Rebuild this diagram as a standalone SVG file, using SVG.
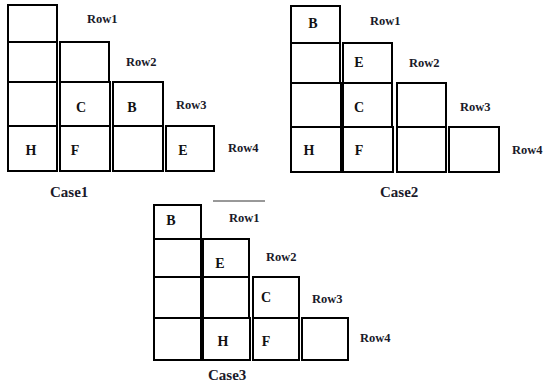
<svg xmlns="http://www.w3.org/2000/svg" width="544" height="383" viewBox="0 0 544 383">
<style>
.b{fill:#fff;stroke:#000;stroke-width:2}
.l{font-family:"Liberation Serif",serif;font-weight:bold;font-size:14px;fill:#111;text-anchor:middle}
.r{font-family:"Liberation Serif",serif;font-weight:bold;font-size:12.5px;fill:#1a1a2a}
.c{font-family:"Liberation Serif",serif;font-weight:bold;font-size:15px;fill:#1a1a2a}
</style>
<rect width="544" height="383" fill="#fff"/>
<g id="case1">
<rect class="b" x="8" y="5" width="49" height="37"/>
<rect class="b" x="8" y="42" width="49" height="40"/>
<rect class="b" x="60" y="42" width="49" height="40"/>
<rect class="b" x="8" y="82" width="49" height="44"/>
<rect class="b" x="60" y="82" width="50" height="44"/>
<rect class="b" x="113" y="82" width="50" height="44"/>
<rect class="b" x="8" y="126" width="49" height="45"/>
<rect class="b" x="60" y="126" width="50" height="45"/>
<rect class="b" x="113" y="126" width="50" height="45"/>
<rect class="b" x="166" y="126" width="48" height="45"/>
<text class="l" x="81" y="112">C</text>
<text class="l" x="132" y="112">B</text>
<text class="l" x="31" y="155">H</text>
<text class="l" x="75" y="155">F</text>
<text class="l" x="183" y="155">E</text>
<text class="r" x="87" y="23">Row1</text>
<text class="r" x="126" y="66">Row2</text>
<text class="r" x="176" y="109">Row3</text>
<text class="r" x="228" y="152">Row4</text>
<text class="c" x="50" y="197">Case1</text>
</g>
<g id="case2">
<rect class="b" x="291" y="6" width="49" height="37"/>
<rect class="b" x="291" y="43" width="49" height="40"/>
<rect class="b" x="343" y="43" width="49" height="40"/>
<rect class="b" x="291" y="83" width="50" height="44"/>
<rect class="b" x="343" y="83" width="49" height="44"/>
<rect class="b" x="397" y="83" width="49" height="44"/>
<rect class="b" x="291" y="127" width="50" height="45"/>
<rect class="b" x="343" y="127" width="50" height="45"/>
<rect class="b" x="397" y="127" width="49" height="45"/>
<rect class="b" x="449" y="127" width="50" height="45"/>
<text class="l" x="313" y="28">B</text>
<text class="l" x="359" y="67">E</text>
<text class="l" x="359" y="112">C</text>
<text class="l" x="309" y="155">H</text>
<text class="l" x="359" y="155">F</text>
<text class="r" x="370" y="25">Row1</text>
<text class="r" x="409" y="67">Row2</text>
<text class="r" x="460" y="111">Row3</text>
<text class="r" x="512" y="154">Row4</text>
<text class="c" x="380" y="197">Case2</text>
</g>
<g id="case3">
<line x1="213" y1="201" x2="265" y2="201" stroke="#333" stroke-width="1"/>
<rect class="b" x="154" y="205" width="47" height="34"/>
<rect class="b" x="154" y="239" width="47" height="38"/>
<rect class="b" x="203" y="239" width="46" height="38"/>
<rect class="b" x="154" y="277" width="47" height="41"/>
<rect class="b" x="203" y="277" width="46" height="41"/>
<rect class="b" x="253" y="277" width="46" height="41"/>
<rect class="b" x="154" y="318" width="47" height="42"/>
<rect class="b" x="203" y="318" width="47" height="42"/>
<rect class="b" x="253" y="318" width="46" height="42"/>
<rect class="b" x="302" y="318" width="46" height="42"/>
<text class="l" x="171" y="225">B</text>
<text class="l" x="220" y="268">E</text>
<text class="l" x="266" y="302">C</text>
<text class="l" x="223" y="346">H</text>
<text class="l" x="266" y="346">F</text>
<text class="r" x="229" y="222">Row1</text>
<text class="r" x="266" y="261">Row2</text>
<text class="r" x="312" y="303">Row3</text>
<text class="r" x="360" y="342">Row4</text>
<text class="c" x="208" y="380">Case3</text>
</g>
</svg>
